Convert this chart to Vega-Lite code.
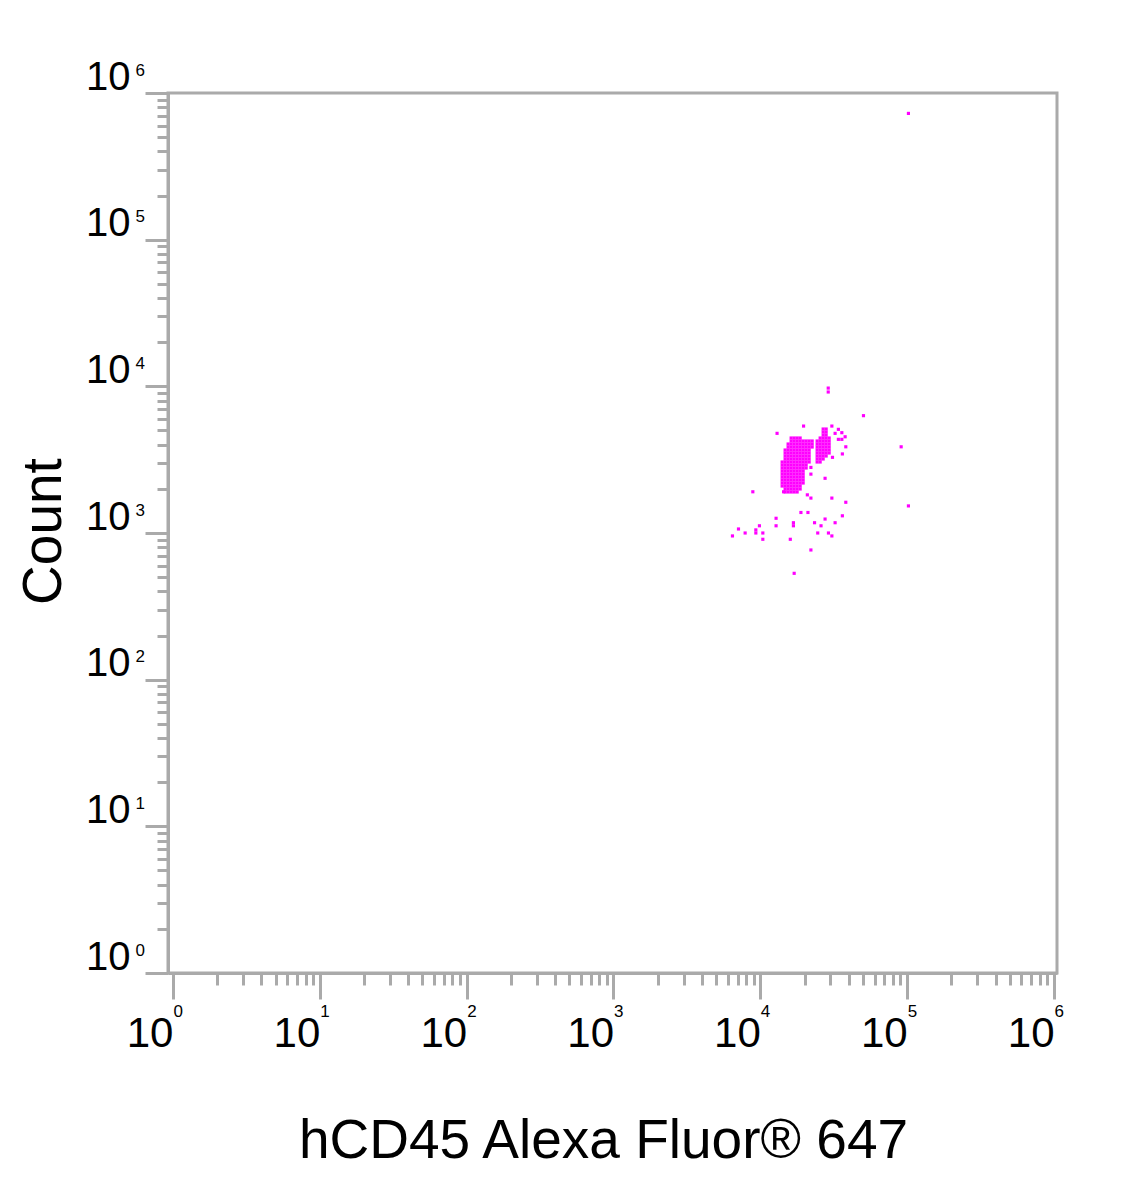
{
  "$schema": "https://vega.github.io/schema/vega-lite/v6.json",
  "autosize": {"type": "none"},
  "padding": {"left": 168, "top": 93, "right": 76, "bottom": 228},
  "width": 889,
  "height": 880,
  "background": "white",
  "config": {
    "view": {"stroke": "#aaaaaa", "strokeWidth": 3},
    "font": "Liberation Sans",
    "axis": {"grid": false, "domainColor": "#aaaaaa", "domainWidth": 3, "tickColor": "#aaaaaa", "tickWidth": 3, "labelColor": "black", "titleColor": "black", "labelFont": "Liberation Sans", "titleFont": "Liberation Sans", "titleFontWeight": "normal", "labelOverlap": false, "labelFlush": false, "labelBound": false}
  },
  "datasets": {
    "events": [
      {"x":16210,"y":4443},{"x":16990,"y":4443},{"x":17810,"y":4443},{"x":18670,"y":4443},
      {"x":16210,"y":4239},{"x":16990,"y":4239},{"x":17810,"y":4239},{"x":18670,"y":4239},{"x":19570,"y":4239},{"x":20510,"y":4239},{"x":21500,"y":4239},{"x":22540,"y":4239},
      {"x":15460,"y":4044},{"x":16210,"y":4044},{"x":16990,"y":4044},{"x":17810,"y":4044},{"x":18670,"y":4044},{"x":19570,"y":4044},{"x":20510,"y":4044},{"x":21500,"y":4044},{"x":22540,"y":4044},
      {"x":15460,"y":3858},{"x":16210,"y":3858},{"x":16990,"y":3858},{"x":17810,"y":3858},{"x":18670,"y":3858},{"x":19570,"y":3858},{"x":20510,"y":3858},{"x":21500,"y":3858},{"x":22540,"y":3858},
      {"x":14750,"y":3680},{"x":15460,"y":3680},{"x":16210,"y":3680},{"x":16990,"y":3680},{"x":17810,"y":3680},{"x":18670,"y":3680},{"x":19570,"y":3680},{"x":20510,"y":3680},{"x":21500,"y":3680},
      {"x":14750,"y":3511},{"x":15460,"y":3511},{"x":16210,"y":3511},{"x":16990,"y":3511},{"x":17810,"y":3511},{"x":18670,"y":3511},{"x":19570,"y":3511},{"x":20510,"y":3511},{"x":21500,"y":3511},
      {"x":14750,"y":3349},{"x":15460,"y":3349},{"x":16210,"y":3349},{"x":16990,"y":3349},{"x":17810,"y":3349},{"x":18670,"y":3349},{"x":19570,"y":3349},{"x":20510,"y":3349},{"x":21500,"y":3349},
      {"x":14750,"y":3195},{"x":15460,"y":3195},{"x":16210,"y":3195},{"x":16990,"y":3195},{"x":17810,"y":3195},{"x":18670,"y":3195},{"x":19570,"y":3195},{"x":20510,"y":3195},{"x":21500,"y":3195},
      {"x":14080,"y":3048},{"x":14750,"y":3048},{"x":15460,"y":3048},{"x":16210,"y":3048},{"x":16990,"y":3048},{"x":17810,"y":3048},{"x":18670,"y":3048},{"x":19570,"y":3048},{"x":20510,"y":3048},{"x":21500,"y":3048},
      {"x":14080,"y":2908},{"x":14750,"y":2908},{"x":15460,"y":2908},{"x":16210,"y":2908},{"x":16990,"y":2908},{"x":17810,"y":2908},{"x":18670,"y":2908},{"x":19570,"y":2908},{"x":20510,"y":2908},
      {"x":14080,"y":2774},{"x":14750,"y":2774},{"x":15460,"y":2774},{"x":16210,"y":2774},{"x":16990,"y":2774},{"x":17810,"y":2774},{"x":18670,"y":2774},{"x":19570,"y":2774},{"x":20510,"y":2774},
      {"x":14080,"y":2646},{"x":14750,"y":2646},{"x":15460,"y":2646},{"x":16210,"y":2646},{"x":16990,"y":2646},{"x":17810,"y":2646},{"x":18670,"y":2646},{"x":19570,"y":2646},
      {"x":14080,"y":2525},{"x":14750,"y":2525},{"x":15460,"y":2525},{"x":16210,"y":2525},{"x":16990,"y":2525},{"x":17810,"y":2525},{"x":18670,"y":2525},{"x":19570,"y":2525},
      {"x":14080,"y":2409},{"x":14750,"y":2409},{"x":15460,"y":2409},{"x":16210,"y":2409},{"x":16990,"y":2409},{"x":17810,"y":2409},{"x":18670,"y":2409},{"x":19570,"y":2409},
      {"x":14080,"y":2298},{"x":14750,"y":2298},{"x":15460,"y":2298},{"x":16210,"y":2298},{"x":16990,"y":2298},{"x":17810,"y":2298},{"x":18670,"y":2298},{"x":19570,"y":2298},
      {"x":14080,"y":2192},{"x":14750,"y":2192},{"x":15460,"y":2192},{"x":16210,"y":2192},{"x":16990,"y":2192},{"x":17810,"y":2192},{"x":18670,"y":2192},{"x":19570,"y":2192},
      {"x":14080,"y":2091},{"x":14750,"y":2091},{"x":15460,"y":2091},{"x":16210,"y":2091},{"x":16990,"y":2091},{"x":17810,"y":2091},{"x":18670,"y":2091},
      {"x":14750,"y":1995},{"x":15460,"y":1995},{"x":16210,"y":1995},{"x":16990,"y":1995},{"x":17810,"y":1995},{"x":18670,"y":1995},
      {"x":14750,"y":1904},{"x":15460,"y":1904},{"x":16210,"y":1904},{"x":16990,"y":1904},{"x":17810,"y":1904},
      {"x":26780,"y":5116},{"x":28070,"y":5116},
      {"x":26780,"y":4881},{"x":28070,"y":4881},
      {"x":26780,"y":4656},{"x":28070,"y":4656},
      {"x":25550,"y":4443},{"x":26780,"y":4443},{"x":28070,"y":4443},{"x":29430,"y":4443},
      {"x":24370,"y":4239},{"x":25550,"y":4239},{"x":26780,"y":4239},{"x":28070,"y":4239},{"x":29430,"y":4239},
      {"x":24370,"y":4044},{"x":25550,"y":4044},{"x":26780,"y":4044},{"x":28070,"y":4044},{"x":29430,"y":4044},
      {"x":24370,"y":3858},{"x":25550,"y":3858},{"x":26780,"y":3858},{"x":28070,"y":3858},{"x":29430,"y":3858},
      {"x":24370,"y":3680},{"x":25550,"y":3680},{"x":26780,"y":3680},{"x":28070,"y":3680},{"x":29430,"y":3680},
      {"x":24370,"y":3511},{"x":25550,"y":3511},{"x":26780,"y":3511},{"x":28070,"y":3511},{"x":29430,"y":3511},
      {"x":24370,"y":3349},{"x":25550,"y":3349},{"x":26780,"y":3349},{"x":28070,"y":3349},
      {"x":24370,"y":3195},{"x":25550,"y":3195},{"x":26780,"y":3195},
      {"x":24370,"y":3048},{"x":25550,"y":3048},
      {"x":102000,"y":726000},
      {"x":29000,"y":9730},{"x":29000,"y":9150},
      {"x":50400,"y":6310},
      {"x":19700,"y":5360},
      {"x":13000,"y":4780},
      {"x":30700,"y":5360},
      {"x":34000,"y":5090},{"x":35900,"y":4830},{"x":37800,"y":4530},{"x":32300,"y":4780},{"x":34000,"y":4350},{"x":35900,"y":4350},
      {"x":91000,"y":3870},
      {"x":38200,"y":3870},
      {"x":36200,"y":3460},
      {"x":31000,"y":3280},
      {"x":22100,"y":2800},{"x":22100,"y":2520},
      {"x":27600,"y":2360},
      {"x":8890,"y":1910},
      {"x":14400,"y":1910},
      {"x":20900,"y":1820},{"x":22100,"y":1730},{"x":30700,"y":1730},{"x":38200,"y":1620},{"x":102000,"y":1530},
      {"x":18900,"y":1380},{"x":21100,"y":1380},{"x":36200,"y":1310},
      {"x":12800,"y":1260},{"x":12800,"y":1120},
      {"x":16800,"y":1175},{"x":16800,"y":1120},
      {"x":23400,"y":1175},{"x":27600,"y":1245},{"x":25900,"y":1120},{"x":32300,"y":1175},
      {"x":7100,"y":1065},{"x":9860,"y":1120},{"x":9320,"y":1050},{"x":9320,"y":1000},{"x":7880,"y":1000},{"x":6460,"y":955},
      {"x":10400,"y":1000},{"x":10400,"y":906},
      {"x":16000,"y":906},
      {"x":24600,"y":1000},{"x":29100,"y":1000},{"x":30700,"y":955},
      {"x":22100,"y":766},
      {"x":17000,"y":531}
    ]
  },
  "data": {"name": "events"},
  "resolve": {"axis": {"x": "independent", "y": "independent"}},
  "layer": [
    {
      "mark": {"type": "square", "size": 10, "color": "#ff00ff", "opacity": 1},
      "encoding": {
        "x": {
          "field": "x", "type": "quantitative",
          "scale": {"type": "log", "domain": [0.925, 1048000], "nice": false, "zero": false},
          "axis": {
            "orient": "bottom",
            "title": "hCD45 Alexa Fluor® 647",
            "titleFontSize": 55, "titleX": 435, "titleY": 184, "titleBaseline": "alphabetic", "titleAlign": "center",
            "values": [1,2,3,4,5,6,7,8,9,10,20,30,40,50,60,70,80,90,100,200,300,400,500,600,700,800,900,1000,2000,3000,4000,5000,6000,7000,8000,9000,10000,20000,30000,40000,50000,60000,70000,80000,90000,100000,200000,300000,400000,500000,600000,700000,800000,900000,1000000],
            "tickSize": {"condition": {"test": "indexof([1,10,100,1000,10000,100000,1000000], datum.value) >= 0", "value": 26}, "value": 12},
            "labelExpr": "indexof([1,10,100,1000,10000,100000,1000000], datum.value) >= 0 ? '10' : ''",
            "labelFontSize": 42, "labelAlign": "right", "labelDx": 3, "labelBaseline": "alphabetic", "labelPadding": 47
          }
        },
        "y": {
          "field": "y", "type": "quantitative",
          "scale": {"type": "log", "domain": [1, 1000000], "nice": false, "zero": false},
          "axis": {
            "orient": "left",
            "title": "Count",
            "titleFontSize": 55, "titleX": -108, "titleY": 438, "titleBaseline": "alphabetic", "titleAlign": "center", "titleAngle": -90,
            "values": [1,2,3,4,5,6,7,8,9,10,20,30,40,50,60,70,80,90,100,200,300,400,500,600,700,800,900,1000,2000,3000,4000,5000,6000,7000,8000,9000,10000,20000,30000,40000,50000,60000,70000,80000,90000,100000,200000,300000,400000,500000,600000,700000,800000,900000,1000000],
            "tickSize": {"condition": {"test": "indexof([1,10,100,1000,10000,100000,1000000], datum.value) >= 0", "value": 23}, "value": 11},
            "labelExpr": "indexof([1,10,100,1000,10000,100000,1000000], datum.value) >= 0 ? '10' : ''",
            "labelFontSize": 40, "labelAlign": "right", "labelBaseline": "alphabetic", "labelOffset": -4, "labelPadding": 15
          }
        }
      }
    },
    {
      "mark": {"type": "square", "size": 10, "color": "#ff00ff", "opacity": 0},
      "encoding": {
        "x": {
          "field": "x", "type": "quantitative",
          "scale": {"type": "log", "domain": [0.925, 1048000], "nice": false, "zero": false},
          "axis": {
            "orient": "bottom", "title": null, "domain": false, "ticks": false, "tickSize": 0,
            "values": [1,10,100,1000,10000,100000,1000000],
            "labelExpr": "round(log(datum.value)/LN10) + ''",
            "labelFontSize": 17, "labelAlign": "left", "labelDx": 7, "labelBaseline": "alphabetic", "labelPadding": 43
          }
        },
        "y": {
          "field": "y", "type": "quantitative",
          "scale": {"type": "log", "domain": [1, 1000000], "nice": false, "zero": false},
          "axis": {
            "orient": "left", "title": null, "domain": false, "ticks": false, "tickSize": 0,
            "values": [1,10,100,1000,10000,100000,1000000],
            "labelExpr": "round(log(datum.value)/LN10) + ''",
            "labelFontSize": 17, "labelAlign": "left", "labelBaseline": "alphabetic", "labelOffset": -18, "labelPadding": 33
          }
        }
      }
    }
  ]
}
